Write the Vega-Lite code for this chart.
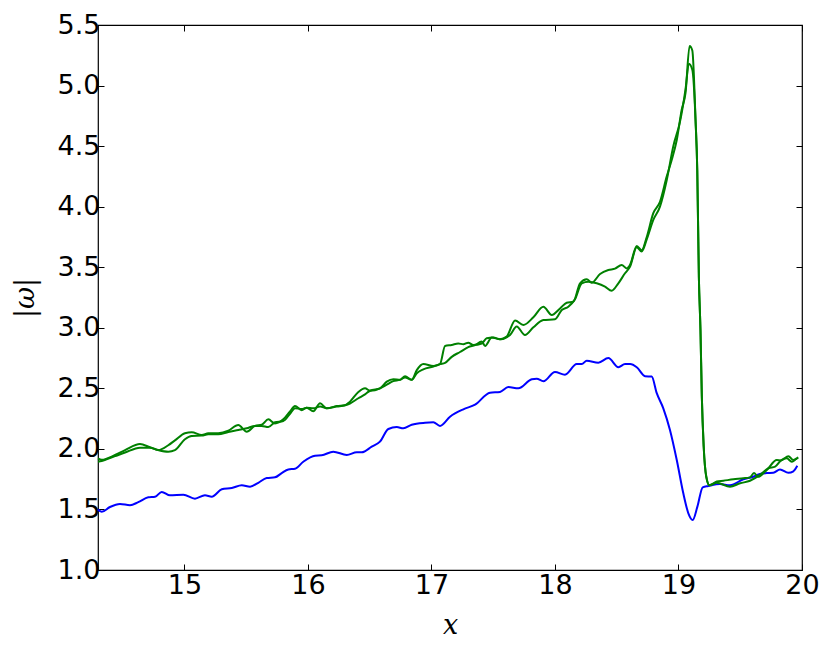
{
  "$schema": "https://vega.github.io/schema/vega-lite/v6.json",
  "width": 704,
  "height": 545,
  "autosize": "none",
  "padding": {"left": 98, "top": 25, "right": 28, "bottom": 81},
  "background": "white",
  "config": {
    "view": {"stroke": "black", "strokeWidth": 1.2},
    "axis": {
      "grid": false,
      "domain": false,
      "tickColor": "black",
      "tickSize": -6,
      "tickWidth": 1,
      "labelFont": "DejaVu Sans",
      "labelFontSize": 27,
      "labelColor": "black",
      "labelFlush": false,
      "labelOverlap": false,
      "titleColor": "black",
      "titleFontWeight": "normal"
    }
  },
  "datasets": {
    "blue": [
      {"x":14.300,"y":1.50},{"x":14.330,"y":1.48},{"x":14.397,"y":1.52},{"x":14.478,"y":1.545},{"x":14.559,"y":1.535},{"x":14.626,"y":1.56},{"x":14.707,"y":1.60},{"x":14.762,"y":1.605},{"x":14.816,"y":1.645},{"x":14.883,"y":1.617},{"x":14.991,"y":1.622},{"x":15.085,"y":1.589},{"x":15.166,"y":1.617},{"x":15.221,"y":1.605},{"x":15.302,"y":1.666},{"x":15.383,"y":1.677},{"x":15.464,"y":1.70},{"x":15.531,"y":1.688},{"x":15.598,"y":1.72},{"x":15.666,"y":1.76},{"x":15.733,"y":1.765},{"x":15.787,"y":1.80},{"x":15.841,"y":1.83},{"x":15.895,"y":1.836},{"x":15.962,"y":1.894},{"x":16.057,"y":1.944},{"x":16.111,"y":1.947},{"x":16.205,"y":1.977},{"x":16.314,"y":1.95},{"x":16.395,"y":1.972},{"x":16.435,"y":1.972},{"x":16.516,"y":2.018},{"x":16.583,"y":2.06},{"x":16.651,"y":2.164},{"x":16.719,"y":2.18},{"x":16.772,"y":2.17},{"x":16.840,"y":2.20},{"x":16.948,"y":2.216},{"x":17.015,"y":2.22},{"x":17.069,"y":2.19},{"x":17.150,"y":2.266},{"x":17.258,"y":2.327},{"x":17.353,"y":2.365},{"x":17.474,"y":2.464},{"x":17.555,"y":2.47},{"x":17.622,"y":2.51},{"x":17.703,"y":2.50},{"x":17.812,"y":2.575},{"x":17.852,"y":2.58},{"x":17.906,"y":2.558},{"x":18.000,"y":2.635},{"x":18.081,"y":2.613},{"x":18.176,"y":2.70},{"x":18.217,"y":2.70},{"x":18.257,"y":2.728},{"x":18.351,"y":2.712},{"x":18.432,"y":2.75},{"x":18.513,"y":2.674},{"x":18.567,"y":2.70},{"x":18.608,"y":2.70},{"x":18.662,"y":2.674},{"x":18.729,"y":2.60},{"x":18.783,"y":2.597},{"x":18.824,"y":2.46},{"x":18.877,"y":2.335},{"x":18.931,"y":2.156},{"x":18.986,"y":1.908},{"x":19.039,"y":1.633},{"x":19.080,"y":1.468},{"x":19.115,"y":1.413},{"x":19.153,"y":1.523},{"x":19.196,"y":1.683},{"x":19.242,"y":1.694},{"x":19.336,"y":1.71},{"x":19.417,"y":1.70},{"x":19.525,"y":1.749},{"x":19.606,"y":1.77},{"x":19.660,"y":1.793},{"x":19.715,"y":1.80},{"x":19.768,"y":1.803},{"x":19.822,"y":1.83},{"x":19.890,"y":1.803},{"x":19.930,"y":1.815},{"x":19.962,"y":1.86}
    ],
    "green": [
      {"s":"a","x":14.300,"y":1.922},{"s":"a","x":14.330,"y":1.91},{"s":"a","x":14.438,"y":1.95},{"s":"a","x":14.519,"y":1.99},{"s":"a","x":14.640,"y":2.04},{"s":"a","x":14.721,"y":2.013},{"s":"a","x":14.788,"y":1.99},{"s":"a","x":14.869,"y":2.03},{"s":"a","x":14.923,"y":2.07},{"s":"a","x":15.004,"y":2.129},{"s":"a","x":15.059,"y":2.137},{"s":"a","x":15.140,"y":2.115},{"s":"a","x":15.193,"y":2.129},{"s":"a","x":15.274,"y":2.13},{"s":"a","x":15.355,"y":2.15},{"s":"a","x":15.436,"y":2.197},{"s":"a","x":15.504,"y":2.142},{"s":"a","x":15.571,"y":2.19},{"s":"a","x":15.626,"y":2.20},{"s":"a","x":15.679,"y":2.244},{"s":"a","x":15.733,"y":2.21},{"s":"a","x":15.800,"y":2.244},{"s":"a","x":15.855,"y":2.31},{"s":"a","x":15.895,"y":2.354},{"s":"a","x":15.949,"y":2.32},{"s":"a","x":15.990,"y":2.34},{"s":"a","x":16.043,"y":2.31},{"s":"a","x":16.098,"y":2.376},{"s":"a","x":16.152,"y":2.335},{"s":"a","x":16.233,"y":2.354},{"s":"a","x":16.300,"y":2.36},{"s":"a","x":16.340,"y":2.39},{"s":"a","x":16.408,"y":2.47},{"s":"a","x":16.462,"y":2.50},{"s":"a","x":16.502,"y":2.48},{"s":"a","x":16.583,"y":2.50},{"s":"a","x":16.638,"y":2.555},{"s":"a","x":16.691,"y":2.575},{"s":"a","x":16.745,"y":2.57},{"s":"a","x":16.786,"y":2.60},{"s":"a","x":16.840,"y":2.57},{"s":"a","x":16.881,"y":2.65},{"s":"a","x":16.934,"y":2.70},{"s":"a","x":17.015,"y":2.685},{"s":"a","x":17.069,"y":2.70},{"s":"a","x":17.110,"y":2.85},{"s":"a","x":17.164,"y":2.858},{"s":"a","x":17.217,"y":2.87},{"s":"a","x":17.258,"y":2.864},{"s":"a","x":17.298,"y":2.877},{"s":"a","x":17.339,"y":2.858},{"s":"a","x":17.407,"y":2.87},{"s":"a","x":17.447,"y":2.913},{"s":"a","x":17.501,"y":2.92},{"s":"a","x":17.555,"y":2.905},{"s":"a","x":17.609,"y":2.927},{"s":"a","x":17.677,"y":3.06},{"s":"a","x":17.744,"y":3.023},{"s":"a","x":17.825,"y":3.087},{"s":"a","x":17.906,"y":3.174},{"s":"a","x":17.974,"y":3.106},{"s":"a","x":18.041,"y":3.16},{"s":"a","x":18.095,"y":3.207},{"s":"a","x":18.149,"y":3.216},{"s":"a","x":18.203,"y":3.367},{"s":"a","x":18.257,"y":3.40},{"s":"a","x":18.298,"y":3.372},{"s":"a","x":18.365,"y":3.444},{"s":"a","x":18.432,"y":3.477},{"s":"a","x":18.486,"y":3.488},{"s":"a","x":18.540,"y":3.519},{"s":"a","x":18.581,"y":3.49},{"s":"a","x":18.608,"y":3.52},{"s":"a","x":18.662,"y":3.675},{"s":"a","x":18.702,"y":3.64},{"s":"a","x":18.743,"y":3.75},{"s":"a","x":18.796,"y":3.946},{"s":"a","x":18.850,"y":4.04},{"s":"a","x":18.905,"y":4.25},{"s":"a","x":18.945,"y":4.385},{"s":"a","x":18.986,"y":4.55},{"s":"a","x":19.026,"y":4.80},{"s":"a","x":19.057,"y":4.94},{"s":"a","x":19.090,"y":5.327},{"s":"a","x":19.112,"y":5.29},{"s":"a","x":19.138,"y":4.716},{"s":"a","x":19.152,"y":4.30},{"s":"a","x":19.165,"y":3.42},{"s":"a","x":19.178,"y":2.98},{"s":"a","x":19.189,"y":2.43},{"s":"a","x":19.204,"y":2.02},{"s":"a","x":19.225,"y":1.77},{"s":"a","x":19.250,"y":1.70},{"s":"a","x":19.310,"y":1.73},{"s":"a","x":19.363,"y":1.737},{"s":"a","x":19.445,"y":1.749},{"s":"a","x":19.525,"y":1.757},{"s":"a","x":19.579,"y":1.765},{"s":"a","x":19.611,"y":1.80},{"s":"a","x":19.644,"y":1.77},{"s":"a","x":19.715,"y":1.826},{"s":"a","x":19.796,"y":1.908},{"s":"a","x":19.830,"y":1.905},{"s":"a","x":19.890,"y":1.94},{"s":"a","x":19.930,"y":1.908},{"s":"a","x":19.970,"y":1.93},
      {"s":"b","x":14.300,"y":1.894},{"s":"b","x":14.330,"y":1.90},{"s":"b","x":14.438,"y":1.94},{"s":"b","x":14.519,"y":1.97},{"s":"b","x":14.640,"y":2.01},{"s":"b","x":14.721,"y":2.01},{"s":"b","x":14.788,"y":1.99},{"s":"b","x":14.869,"y":1.977},{"s":"b","x":14.923,"y":1.99},{"s":"b","x":15.004,"y":2.08},{"s":"b","x":15.059,"y":2.107},{"s":"b","x":15.140,"y":2.11},{"s":"b","x":15.193,"y":2.12},{"s":"b","x":15.274,"y":2.12},{"s":"b","x":15.355,"y":2.14},{"s":"b","x":15.436,"y":2.156},{"s":"b","x":15.504,"y":2.17},{"s":"b","x":15.571,"y":2.19},{"s":"b","x":15.626,"y":2.19},{"s":"b","x":15.679,"y":2.18},{"s":"b","x":15.733,"y":2.22},{"s":"b","x":15.800,"y":2.23},{"s":"b","x":15.855,"y":2.29},{"s":"b","x":15.895,"y":2.335},{"s":"b","x":15.949,"y":2.33},{"s":"b","x":15.990,"y":2.34},{"s":"b","x":16.043,"y":2.335},{"s":"b","x":16.098,"y":2.35},{"s":"b","x":16.152,"y":2.335},{"s":"b","x":16.233,"y":2.35},{"s":"b","x":16.300,"y":2.36},{"s":"b","x":16.340,"y":2.375},{"s":"b","x":16.408,"y":2.418},{"s":"b","x":16.462,"y":2.45},{"s":"b","x":16.502,"y":2.48},{"s":"b","x":16.583,"y":2.50},{"s":"b","x":16.638,"y":2.53},{"s":"b","x":16.691,"y":2.56},{"s":"b","x":16.745,"y":2.57},{"s":"b","x":16.786,"y":2.59},{"s":"b","x":16.840,"y":2.57},{"s":"b","x":16.881,"y":2.625},{"s":"b","x":16.934,"y":2.657},{"s":"b","x":17.015,"y":2.68},{"s":"b","x":17.069,"y":2.70},{"s":"b","x":17.110,"y":2.71},{"s":"b","x":17.164,"y":2.76},{"s":"b","x":17.231,"y":2.80},{"s":"b","x":17.298,"y":2.84},{"s":"b","x":17.353,"y":2.858},{"s":"b","x":17.407,"y":2.886},{"s":"b","x":17.434,"y":2.85},{"s":"b","x":17.488,"y":2.92},{"s":"b","x":17.555,"y":2.905},{"s":"b","x":17.636,"y":2.94},{"s":"b","x":17.690,"y":3.01},{"s":"b","x":17.757,"y":2.94},{"s":"b","x":17.825,"y":3.004},{"s":"b","x":17.906,"y":3.064},{"s":"b","x":18.000,"y":3.07},{"s":"b","x":18.055,"y":3.147},{"s":"b","x":18.108,"y":3.174},{"s":"b","x":18.162,"y":3.235},{"s":"b","x":18.217,"y":3.367},{"s":"b","x":18.270,"y":3.38},{"s":"b","x":18.338,"y":3.367},{"s":"b","x":18.405,"y":3.34},{"s":"b","x":18.459,"y":3.306},{"s":"b","x":18.513,"y":3.367},{"s":"b","x":18.567,"y":3.45},{"s":"b","x":18.608,"y":3.505},{"s":"b","x":18.662,"y":3.665},{"s":"b","x":18.702,"y":3.63},{"s":"b","x":18.743,"y":3.73},{"s":"b","x":18.796,"y":3.89},{"s":"b","x":18.850,"y":4.00},{"s":"b","x":18.905,"y":4.22},{"s":"b","x":18.958,"y":4.50},{"s":"b","x":19.012,"y":4.70},{"s":"b","x":19.057,"y":4.97},{"s":"b","x":19.084,"y":5.18},{"s":"b","x":19.112,"y":5.13},{"s":"b","x":19.138,"y":4.716},{"s":"b","x":19.152,"y":4.30},{"s":"b","x":19.165,"y":3.42},{"s":"b","x":19.178,"y":2.98},{"s":"b","x":19.189,"y":2.43},{"s":"b","x":19.204,"y":2.02},{"s":"b","x":19.225,"y":1.77},{"s":"b","x":19.250,"y":1.70},{"s":"b","x":19.310,"y":1.72},{"s":"b","x":19.417,"y":1.688},{"s":"b","x":19.499,"y":1.716},{"s":"b","x":19.579,"y":1.737},{"s":"b","x":19.660,"y":1.785},{"s":"b","x":19.728,"y":1.84},{"s":"b","x":19.782,"y":1.853},{"s":"b","x":19.830,"y":1.905},{"s":"b","x":19.876,"y":1.922},{"s":"b","x":19.917,"y":1.894},{"s":"b","x":19.957,"y":1.922}
    ]
  },
  "layer": [
    {
      "data": {"name": "blue"},
      "mark": {"type": "line", "color": "#0000ff", "strokeWidth": 2, "interpolate": "monotone"},
      "encoding": {
        "x": {"field": "x", "type": "quantitative",
              "scale": {"domain": [14.3, 20], "nice": false, "zero": false},
              "axis": {"orient": "bottom", "values": [15, 16, 17, 18, 19, 20], "format": "d",
                       "labelPadding": 8, "title": "x", "titleFont": "DejaVu Serif",
                       "titleFontStyle": "italic", "titleFontSize": 27, "titlePadding": 14}},
        "y": {"field": "y", "type": "quantitative",
              "scale": {"domain": [1, 5.5], "nice": false, "zero": false},
              "axis": {"orient": "left", "values": [1, 1.5, 2, 2.5, 3, 3.5, 4, 4.5, 5, 5.5], "format": ".1f",
                       "labelPadding": 4, "title": "|ω|", "titleFont": "DejaVu Serif",
                       "titleFontStyle": "italic", "titleFontSize": 27, "titlePadding": 18}}
      }
    },
    {
      "data": {"name": "green"},
      "mark": {"type": "line", "color": "#008000", "strokeWidth": 2, "interpolate": "monotone"},
      "encoding": {
        "x": {"field": "x", "type": "quantitative",
              "axis": {"orient": "top", "values": [15, 16, 17, 18, 19, 20], "labels": false, "title": null}},
        "y": {"field": "y", "type": "quantitative",
              "axis": {"orient": "right", "values": [1, 1.5, 2, 2.5, 3, 3.5, 4, 4.5, 5, 5.5], "labels": false, "title": null}},
        "detail": {"field": "s", "type": "nominal"}
      }
    }
  ]
}
